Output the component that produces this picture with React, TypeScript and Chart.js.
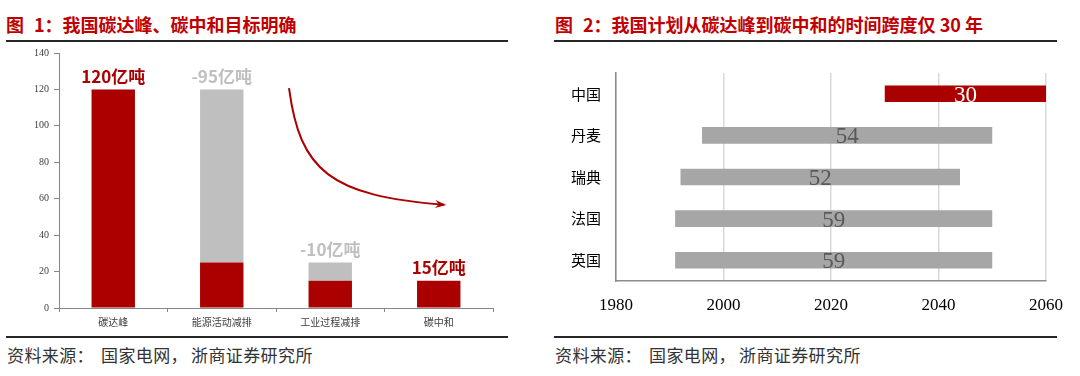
import React, { useEffect, useRef } from "react";
import { Chart, registerables } from "chart.js";

Chart.register(...registerables);

// ---- Left chart data ----
const stepCategories = ["碳达峰", "能源活动减排", "工业过程减排", "碳中和"];
const remainingValues = [120, 25, 15, 15];
const reducedValues = [0, 95, 10, 0];
const stepNotes = ["120亿吨", "-95亿吨", "-10亿吨", "15亿吨"];
const stepNoteIsRed = [true, false, false, true];
const leftYTicks = [0, 20, 40, 60, 80, 100, 120, 140];
// arrow path control points in data units: [category index, value]
const arrowPoints: [number, number][] = [
  [1.62, 120.7],
  [1.72, 75.3],
  [2.0, 61.6],
  [3.05, 56.7],
];

// ---- Right chart data ----
const countries = ["中国", "丹麦", "瑞典", "法国", "英国"];
const peakYears = [2030, 1996, 1992, 1991, 1991];
const neutralYears = [2060, 2050, 2044, 2050, 2050];
const spanLabels = ["30", "54", "52", "59", "59"];
const yearTicks = [1980, 2000, 2020, 2040, 2060];

const RED = "#AA0000";
const TITLE_RED = "#C00000";
const GRAY_L = "#BFBFBF";
const GRAY_R = "#A6A6A6";

const LeftChart = () => {
  const ref = useRef<HTMLCanvasElement>(null);
  useEffect(() => {
    const notesPlugin = {
      id: "notes",
      afterDatasetsDraw(chart: any) {
        const ctx = chart.ctx;
        const xs = chart.scales.x;
        const ys = chart.scales.y;
        ctx.save();
        ctx.font = "bold 17px 'Noto Sans CJK SC', sans-serif";
        ctx.textAlign = "center";
        ctx.textBaseline = "middle";
        stepCategories.forEach((_, i) => {
          const total = remainingValues[i] + reducedValues[i];
          const x = xs.getPixelForValue(i);
          const y = ys.getPixelForValue(total) - 13;
          ctx.fillStyle = stepNoteIsRed[i] ? RED : GRAY_L;
          ctx.fillText(stepNotes[i], x, y);
        });
        // arrow
        const pts = arrowPoints.map(([c, v]) => [xs.getPixelForValue(c), ys.getPixelForValue(v)]);
        ctx.strokeStyle = RED;
        ctx.fillStyle = RED;
        ctx.lineWidth = 2;
        ctx.beginPath();
        ctx.moveTo(pts[0][0], pts[0][1]);
        ctx.bezierCurveTo(pts[1][0], pts[1][1], pts[2][0], pts[2][1], pts[3][0], pts[3][1]);
        ctx.stroke();
        const [ex, ey] = pts[3];
        const ang = Math.atan2(pts[3][1] - pts[2][1], pts[3][0] - pts[2][0]);
        const L = 9;
        const W = 4;
        ctx.beginPath();
        ctx.moveTo(ex + 2 * Math.cos(ang), ey + 2 * Math.sin(ang));
        ctx.lineTo(ex - L * Math.cos(ang) + W * Math.sin(ang), ey - L * Math.sin(ang) - W * Math.cos(ang));
        ctx.lineTo(ex - L * 0.6 * Math.cos(ang), ey - L * 0.6 * Math.sin(ang));
        ctx.lineTo(ex - L * Math.cos(ang) - W * Math.sin(ang), ey - L * Math.sin(ang) + W * Math.cos(ang));
        ctx.closePath();
        ctx.fill();
        ctx.restore();
      },
    };
    const chart = new Chart(ref.current!, {
      type: "bar",
      data: {
        labels: stepCategories,
        datasets: [
          { data: remainingValues, backgroundColor: RED, categoryPercentage: 0.8, barPercentage: 0.5 },
          { data: reducedValues, backgroundColor: GRAY_L, categoryPercentage: 0.8, barPercentage: 0.5 },
        ],
      },
      options: {
        responsive: false,
        animation: false,
        layout: { padding: { left: 0, right: 17, top: 10, bottom: 0 } },
        plugins: { legend: { display: false }, tooltip: { enabled: false } },
        scales: {
          x: {
            stacked: true,
            afterFit: (s: any) => { s.height = 28; },
            grid: { drawOnChartArea: false, tickLength: 4, color: "#868686", offset: true },
            border: { color: "#868686", width: 1 },
            ticks: { color: "#404040", padding: 4, font: { size: 10, family: "'Noto Sans CJK SC', serif" } },
          },
          y: {
            stacked: true,
            min: 0,
            max: 140,
            afterFit: (s: any) => { s.width = 59; },
            afterBuildTicks: (s: any) => { s.ticks = leftYTicks.map((v) => ({ value: v })); },
            grid: { drawOnChartArea: false, tickLength: 5, color: "#868686" },
            border: { color: "#868686", width: 1 },
            ticks: { color: "#404040", padding: 5, font: { size: 10, family: "'Liberation Serif', serif" } },
          },
        },
      },
      plugins: [notesPlugin],
    });
    return () => chart.destroy();
  }, []);
  return <canvas ref={ref} width={510} height={294} />;
};

const RightChart = () => {
  const ref = useRef<HTMLCanvasElement>(null);
  useEffect(() => {
    const labelPlugin = {
      id: "spanLabels",
      afterDatasetsDraw(chart: any) {
        const ctx = chart.ctx;
        const xs = chart.scales.x;
        const ys = chart.scales.y;
        ctx.save();
        ctx.font = "23px 'Liberation Serif', serif";
        ctx.textAlign = "center";
        ctx.textBaseline = "middle";
        countries.forEach((_, i) => {
          const x = xs.getPixelForValue((peakYears[i] + neutralYears[i]) / 2);
          const y = ys.getPixelForValue(i) + 2;
          ctx.fillStyle = i === 0 ? "#FFFFFF" : "#595959";
          ctx.fillText(spanLabels[i], x, y);
        });
        ctx.restore();
      },
    };
    const chart = new Chart(ref.current!, {
      type: "bar",
      data: {
        labels: countries,
        datasets: [
          {
            data: countries.map((_, i) => [peakYears[i], neutralYears[i]]) as any,
            backgroundColor: countries.map((_, i) => (i === 0 ? RED : GRAY_R)),
            categoryPercentage: 0.8,
            barPercentage: 0.5,
          },
        ],
      },
      options: {
        indexAxis: "y",
        responsive: false,
        animation: false,
        layout: { padding: { left: 0, right: 34, top: 31, bottom: 0 } },
        plugins: { legend: { display: false }, tooltip: { enabled: false } },
        scales: {
          x: {
            min: 1980,
            max: 2060,
            afterFit: (s: any) => { s.height = 55; },
            afterBuildTicks: (s: any) => { s.ticks = yearTicks.map((v) => ({ value: v })); },
            grid: { color: "#D9D9D9", drawTicks: false, lineWidth: 1.5 },
            border: { color: "#8C8C8C", width: 1.5 },
            ticks: { color: "#000000", padding: 14, font: { size: 17, family: "'Liberation Serif', serif" }, callback: (v: any) => String(v) },
          },
          y: {
            afterFit: (s: any) => { s.width = 76; },
            grid: { display: false },
            border: { color: "#8C8C8C", width: 1.5 },
            ticks: { color: "#000000", padding: 7, font: { size: 15, family: "'Noto Sans CJK SC', serif" } },
          },
        },
      },
      plugins: [labelPlugin],
    });
    return () => chart.destroy();
  }, []);
  return <canvas ref={ref} width={540} height={294} />;
};

const titleStyle: React.CSSProperties = {
  position: "absolute",
  top: 12,
  fontFamily: "'Noto Sans CJK SC', sans-serif",
  fontWeight: 700,
  fontSize: 18,
  color: TITLE_RED,
  whiteSpace: "nowrap",
  lineHeight: "24px",
};

const ruleStyle: React.CSSProperties = {
  position: "absolute",
  height: 2,
  background: "#262626",
};

const sourceStyle: React.CSSProperties = {
  position: "absolute",
  top: 345,
  fontFamily: "'Noto Sans CJK SC', serif",
  fontSize: 17,
  color: "#333333",
  whiteSpace: "nowrap",
  lineHeight: "20px",
  letterSpacing: "0.4px",
};

const Source = ({ left }: { left: number }) => (
  <div style={{ ...sourceStyle, left }}>
    资料来源：<span style={{ marginLeft: 7 }}>国家电网，</span>
    <span style={{ marginLeft: 3 }}>浙商证券研究所</span>
  </div>
);

export default function App() {
  return (
    <div style={{ position: "absolute", left: 0, top: 0, width: 1080, height: 376, background: "#fff", overflow: "hidden" }}>
      <div style={{ ...titleStyle, left: 6 }}>
        图<span style={{ marginLeft: 10 }}>1：我国碳达峰、碳中和目标明确</span>
      </div>
      <div style={{ ...ruleStyle, left: 6, width: 502, top: 40 }} />
      <div style={{ position: "absolute", left: 0, top: 42 }}>
        <LeftChart />
      </div>
      <div style={{ ...ruleStyle, left: 6, width: 502, top: 336 }} />
      <Source left={7} />

      <div style={{ ...titleStyle, left: 555 }}>
        图<span style={{ marginLeft: 10 }}>2：我国计划从碳达峰到碳中和的时间跨度仅 30 年</span>
      </div>
      <div style={{ ...ruleStyle, left: 554, width: 503, top: 40 }} />
      <div style={{ position: "absolute", left: 540, top: 42 }}>
        <RightChart />
      </div>
      <div style={{ ...ruleStyle, left: 554, width: 503, top: 336 }} />
      <Source left={555} />
    </div>
  );
}
